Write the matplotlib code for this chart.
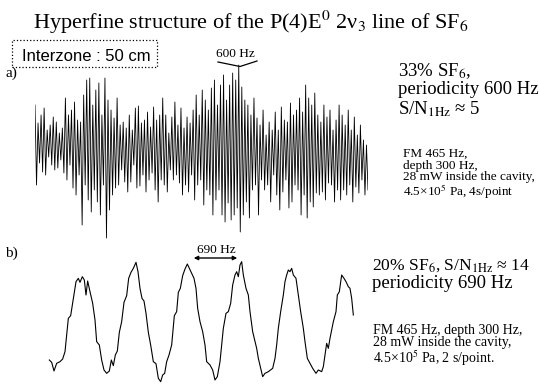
import numpy as np
import matplotlib
matplotlib.use("Agg")
import matplotlib.pyplot as plt
from matplotlib.lines import Line2D
from matplotlib.patches import Rectangle, FancyArrowPatch

plt.rcParams['font.family'] = ['Liberation Serif', 'DejaVu Serif']
plt.rcParams['mathtext.fontset'] = 'stix'

# trace a) : 33% SF6, one value per sample (4 s/point), arbitrary units
signal_a = [40, -40, 22, -18, 30, -27, 37, -30, 15, -12, 20, -20, 28, -25, 23, -23, 12, -15, 17, -28,
            47, -35, 30, -20, 35, -43, 43, -50, 25, -30, 23, -80, 50, -40, 65, -55, 67, -67, 40, -45,
            55, -57, 62, -70, 30, -40, 67, -93, 45, -65, 35, -50, 27, -43, 47, -40, 20, -25, 23, -37,
            17, -47, 30, -37, 15, -20, 37, -43, 39, -41, 22, -30, 25, -47, 33, -35, 18, -28, 38, -45,
            25, -57, 30, -35, 47, -40, 30, -47, 12, -25, 28, -35, 43, -30, 20, -38, 37, -50, 17, -40,
            28, -47, 22, -30, 35, -55, 50, -40, 30, -35, 55, -60, 45, -45, 35, -50, 57, -70, 65, -55,
            40, -45, 60, -70, 70, -77, 45, -58, 60, -75, 72, -70, 65, -63, 80, -87, 58, -70, 45, -57,
            40, -73, 30, -45, 47, -40, 27, -70, 20, -35, 35, -45, 10, -40, 23, -57, 15, -30, 33, -50,
            15, -65, 38, -47, 25, -35, 23, -63, 42, -57, 30, -40, 35, -45, 47, -70, 33, -50, 60, -73,
            47, -57, 40, -62, 52, -48, 30, -50, 23, -47, 40, -55, 28, -38, 35, -40, 15, -57, 25, -45,
            40, -55, 30, -45, 20, -50, 35, -40, 15, -57, 28, -42, 10, -48, 20, -35, 5, -50, 0, -45]

# trace b) : 20% SF6, sweep position / signal (arbitrary units)
sweep_b = [28, 35, 42, 50, 60, 68, 75, 80, 85, 92, 100, 108, 115, 120, 127, 133,
           138, 143, 150, 158, 165, 170, 178, 185, 192, 200, 208, 214, 220, 226, 232,
           238, 245, 252, 260, 266, 273, 280, 288, 294, 300, 306, 312, 318, 325, 332,
           340, 348, 355, 362, 368, 374, 380, 387, 395, 403, 410, 415, 421, 428, 435,
           442, 448, 455, 462, 468, 473, 480, 488, 495, 500, 510, 518, 525, 532, 540,
           545, 550, 558, 565, 572, 578, 585, 590, 595, 600, 605, 610, 618, 625, 630,
           638, 645, 650, 655, 662, 668, 675, 685, 698, 705, 710, 715, 722, 730, 735,
           740, 745, 750, 755, 760, 768, 775, 782, 790, 795, 802, 810, 818, 828, 835,
           845, 850, 855, 860, 865, 870, 880, 888, 892, 898, 905, 912, 918, 925, 930,
           935, 940]
signal_b = [75, 68, 42, 65, 70, 78, 100, 150, 200, 208, 260, 310, 320, 308, 325, 315,
            270, 312, 280, 245, 195, 130, 120, 75, 45, 35, 42, 75, 58, 90, 102,
            158, 190, 248, 268, 320, 338, 350, 368, 340, 290, 260, 252, 215, 158, 120,
            70, 64, 20, 10, 30, 35, 70, 90, 120, 208, 220, 278, 290, 328, 348,
            363, 350, 335, 320, 290, 230, 190, 160, 120, 70, 60, 45, 15, 25, 70,
            120, 170, 215, 220, 245, 300, 330, 340, 325, 360, 370, 330, 290, 270, 220,
            160, 130, 110, 80, 50, 25, 35, 40, 50, 80, 120, 170, 220, 270, 310,
            330, 345, 340, 350, 330, 320, 270, 220, 170, 130, 80, 65, 50, 35, 45,
            40, 55, 90, 125, 110, 140, 190, 220, 270, 280, 330, 320, 310, 295, 290,
            260, 210]

notes_a = ['33% SF$_6$,', 'periodicity 600 Hz', r'S/N$_{\rm 1Hz}$ ≈ 5']
small_a = ['FM 465 Hz,', 'depth 300 Hz,', '28 mW inside the cavity,', '4.5×10$^5$ Pa, 4s/point']
notes_b = [r'20% SF$_6$, S/N$_{\rm 1Hz}$ ≈ 14', 'periodicity 690 Hz']
small_b = ['FM 465 Hz, depth 300 Hz,', '28 mW inside the cavity,', '4.5×10$^5$ Pa, 2 s/point.']

W, H = 539, 385
fig = plt.figure(figsize=(W / 100, H / 100), dpi=100)


def box(x0, y0, x1, y1):
    # pixel box (top-left origin) -> figure fraction rect
    return [x0 / W, 1 - y1 / H, (x1 - x0) / W, (y1 - y0) / H]


def txt(x, y, s, va='baseline', **kw):
    fig.text(x / W, 1 - y / H, s, va=va, **kw)


# trace a)
ax_a = fig.add_axes(box(35, 55, 368, 245))
ax_a.plot(np.arange(len(signal_a)), signal_a, color='black', lw=0.6)
ax_a.set_xlim(0, len(signal_a) - 1)
ax_a.set_ylim(-100, 90)
ax_a.axis('off')

# trace b)
ax_b = fig.add_axes(box(40, 245, 373.33, 385))
ax_b.plot(sweep_b, signal_b, color='black', lw=0.8)
ax_b.set_xlim(0, 1000)
ax_b.set_ylim(0, 420)
ax_b.axis('off')

# title
txt(33, 29, 'Hyperfine structure of the P(4)E$^{0}$ 2ν$_3$ line of SF$_6$', fontsize=16)

# interzone box
fig.patches.append(Rectangle((12 / W, 1 - 67 / H), 145 / W, 27 / H, transform=fig.transFigure,
                             fill=False, ls=':', lw=0.9, ec='black'))
txt(22, 61, 'Interzone : 50 cm', fontsize=12, family=['Liberation Sans Narrow', 'Liberation Sans'])

# period markers
txt(235, 57, '600 Hz', fontsize=9.5, ha='center')
fig.lines.append(Line2D([218 / W, 240 / W, 257 / W], [1 - 62 / H, 1 - 66.5 / H, 1 - 61 / H],
                        transform=fig.transFigure, color='black', lw=0.9))
txt(216, 253, '690 Hz', fontsize=9.5, ha='center')
fig.patches.append(FancyArrowPatch((191 / W, 1 - 258 / H), (240 / W, 1 - 258 / H),
                                   transform=fig.transFigure, arrowstyle='<|-|>',
                                   mutation_scale=6, lw=1.0, color='black'))

txt(5, 77, 'a)', fontsize=11)
txt(5, 257, 'b)', fontsize=11)

# notes a)
txt(398, 61, '\n'.join(notes_a), va='top', fontsize=13.5, linespacing=1.05)
txt(403, 148, '\n'.join(small_a), va='top', fontsize=9.5, linespacing=0.95)

# notes b)
txt(372, 270, notes_b[0], fontsize=12.6)
txt(372, 288, notes_b[1], fontsize=13.5)
txt(373, 324, '\n'.join(small_b), va='top', fontsize=10, linespacing=0.92)

fig.savefig('out.png', dpi=100)
